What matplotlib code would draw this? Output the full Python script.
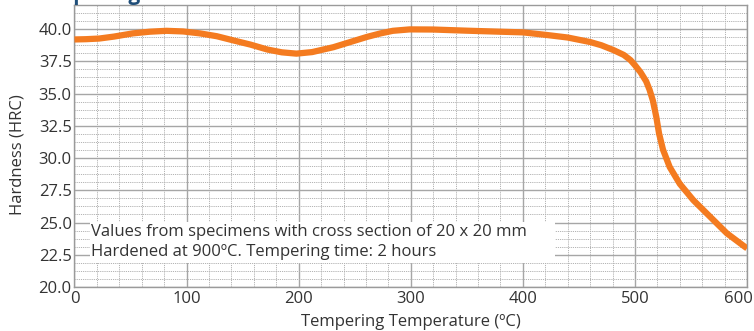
import numpy as np
import matplotlib.pyplot as plt
import matplotlib.transforms as mtransforms
from matplotlib.patches import Rectangle
from matplotlib.ticker import MultipleLocator

plt.rcParams['font.family'] = ['Open Sans', 'DejaVu Sans']

# Tempering curve
temp = [0, 10, 22, 35, 52, 67, 82, 97, 112, 127, 142, 157, 172, 185, 198, 212,
        231, 246, 261, 273, 284, 299, 320, 350, 380, 400, 421, 440, 460, 470,
        481, 490, 496, 500, 505, 510, 513, 516, 519, 521.5, 525, 531, 540,
        552, 567, 582, 598, 600]
hardness = [39.2, 39.22, 39.27, 39.42, 39.67, 39.8, 39.87, 39.82, 39.67, 39.45,
            39.12, 38.8, 38.42, 38.2, 38.1, 38.22, 38.6, 39.0, 39.4, 39.67,
            39.87, 39.98, 39.97, 39.88, 39.8, 39.75, 39.55, 39.35, 39.0, 38.75,
            38.37, 38.0, 37.6, 37.2, 36.65, 35.95, 35.3, 34.45, 33.2, 31.9,
            30.65, 29.3, 28.0, 26.74, 25.45, 24.16, 23.12, 23.0]

x_ticks = [0, 100, 200, 300, 400, 500, 600]
note_lines = ["Values from specimens with cross section of 20 x 20 mm",
              "Hardened at 900ºC. Tempering time: 2 hours"]

fig = plt.figure(figsize=(7.54, 3.31), dpi=100)
ax = fig.add_axes([0.0988, 0.133, 0.892, 0.852])

ax.plot(temp, hardness, color='#F47B20', lw=4.5, solid_capstyle='butt',
        solid_joinstyle='round', zorder=3)

ax.set_xlim(0, 600)
ax.set_ylim(20, 41.875)
ax.set_xticks(x_ticks)
ax.xaxis.set_minor_locator(MultipleLocator(20))
ax.yaxis.set_major_locator(MultipleLocator(2.5))
ax.yaxis.set_minor_locator(MultipleLocator(0.625))
ax.yaxis.set_major_formatter(plt.FormatStrFormatter('%.1f'))

ax.set_axisbelow(True)
ax.grid(which='major', color='#a6a6a6', lw=1.0, ls='-')
ax.grid(which='minor', color='#b3b3b3', lw=0.7, ls=(0, (1.2, 1.0)))
ax.tick_params(which='both', length=0, labelsize=12, colors='#333333')
ax.tick_params(axis='y', pad=2)
ax.tick_params(axis='x', pad=3)
for s in ax.spines.values():
    s.set_color('#9a9a9a')
    s.set_linewidth(1.0)

# keep the last x label inside the figure
fig.canvas.draw()
last = ax.xaxis.get_major_ticks()[len(x_ticks) - 1].label1
shift = mtransforms.ScaledTranslation(-9 / 100, 0, fig.dpi_scale_trans)
last.set_transform(last.get_transform() + shift)

# white box behind the note
ax.add_patch(Rectangle((14, 21.86), 415, 3.18, facecolor='white',
                       edgecolor='none', zorder=1))
ax.text(15, 24.26, note_lines[0], fontsize=12, color='#333333', va='center', zorder=2)
ax.text(15, 22.7, note_lines[1], fontsize=12, color='#333333', va='center', zorder=2)

ax.set_xlabel('Tempering Temperature (ºC)', fontsize=12, color='#333333')
ax.set_ylabel('Hardness (HRC)', fontsize=12, color='#333333')
ax.xaxis.set_label_coords(0.5, -0.124)
ax.xaxis.label.set_va('center')
ax.yaxis.set_label_coords(-0.084, 0.468)
ax.yaxis.label.set_va('center')

# cropped title above the figure
fig.text(0.04, 1.0, 'Tempering', fontsize=15, fontweight='bold',
         color='#1f4e79', va='baseline', ha='left')

fig.savefig('out.png', dpi=100)
